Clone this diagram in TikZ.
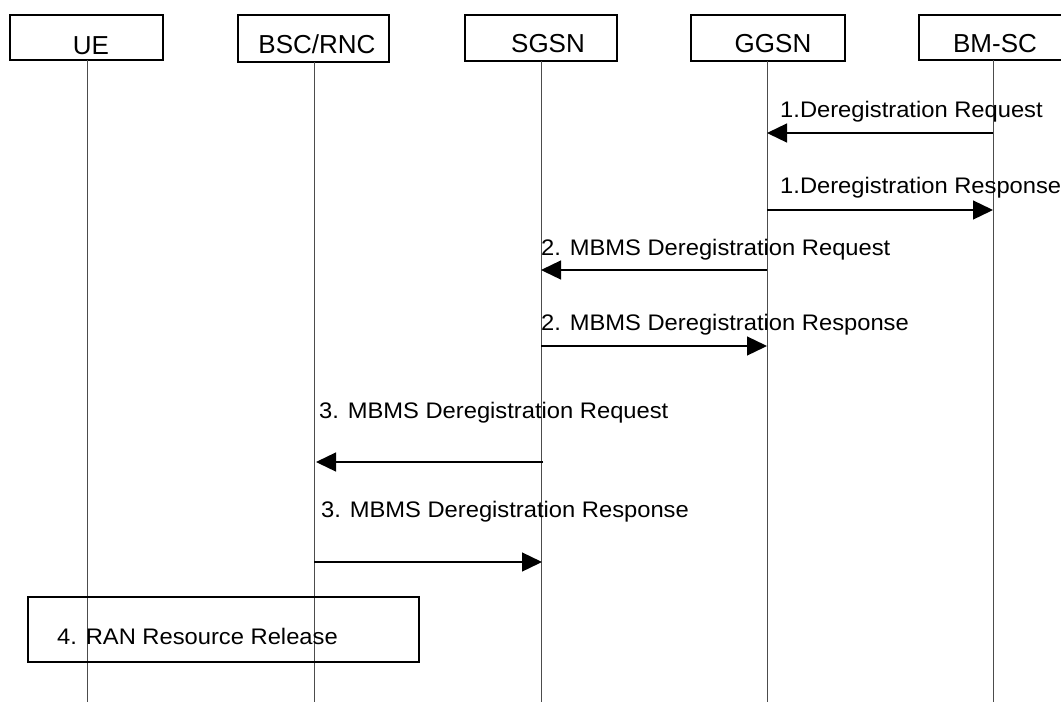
\documentclass[tikz,border=0pt]{standalone}
\usepackage{fontspec}
\setmainfont{Liberation Sans}
\newfontfamily\msgfont[FakeStretch=1.055]{Liberation Sans}
\usetikzlibrary{arrows.meta}
\begin{document}
\begin{tikzpicture}[x=1pt,y={(0,-1pt)},
  entbox/.style={draw=black,line width=1.4pt},
  entlabel/.style={anchor=base,inner sep=0pt,font=\fontsize{26}{30}\selectfont},
  lifeline/.style={draw=black!70,line width=1pt},
  msg/.style={draw=black,line width=1.3pt,-{Triangle[length=20pt,width=19pt]}},
  msglabel/.style={anchor=base west,inner sep=0pt,font=\msgfont\fontsize{22.5}{26}\selectfont}]
\useasboundingbox (0,0) rectangle (1061,702);
% entity boxes
\draw[entbox] (10,15) rectangle (163,60);
\draw[entbox] (238,15) rectangle (389,62);
\draw[entbox] (465,15) rectangle (617,61);
\draw[entbox] (691,15) rectangle (845,61);
\draw[entbox] (919,15) rectangle (1075,60);
\node[entlabel] (ue) at (91,54) {UE};
\node[entlabel] (bsc) at (317,53) {BSC/RNC};
\node[entlabel] (sgsn) at (548,52) {SGSN};
\node[entlabel] (ggsn) at (773,52) {GGSN};
\node[entlabel] (bmsc) at (995,52) {BM-SC};
% lifelines
\coordinate (ueT) at (87,60);   \coordinate (ueB) at (87,702);
\coordinate (bscT) at (314,62); \coordinate (bscB) at (314,702);
\coordinate (sgT) at (541,61);  \coordinate (sgB) at (541,702);
\coordinate (ggT) at (767,61);  \coordinate (ggB) at (767,702);
\coordinate (bmT) at (993,60);  \coordinate (bmB) at (993,702);
\draw[lifeline] (ueT) -- (ueB);
\draw[lifeline] (bscT) -- (bscB);
\draw[lifeline] (sgT) -- (sgB);
\draw[lifeline] (ggT) -- (ggB);
\draw[lifeline] (bmT) -- (bmB);
% message end points
\coordinate (m1a) at (993,133); \coordinate (m1b) at (767,133);
\coordinate (m2a) at (767,210); \coordinate (m2b) at (993,210);
\coordinate (m3a) at (767,270); \coordinate (m3b) at (541,270);
\coordinate (m4a) at (541,346); \coordinate (m4b) at (767,346);
\coordinate (m5a) at (543,462); \coordinate (m5b) at (316,462);
\coordinate (m6a) at (314,562); \coordinate (m6b) at (542,562);
\draw[msg] (m1a) -- (m1b);
\draw[msg] (m2a) -- (m2b);
\draw[msg] (m3a) -- (m3b);
\draw[msg] (m4a) -- (m4b);
\draw[msg] (m5a) -- (m5b);
\draw[msg] (m6a) -- (m6b);
% labels
\node[msglabel] (l1) at (780,117) {1.Deregistration Request};
\node[msglabel] (l2) at (780,193) {1.Deregistration Response};
\node[msglabel] (l3) at (541,255) {2. MBMS Deregistration Request};
\node[msglabel] (l4) at (541,330) {2. MBMS Deregistration Response};
\node[msglabel] (l5) at (319,418) {3. MBMS Deregistration Request};
\node[msglabel] (l6) at (321,517) {3. MBMS Deregistration Response};
% RAN box
\draw[entbox,line width=1.3pt] (28,597) rectangle (419,662);
\node[msglabel] (ran) at (57,644) {4. RAN Resource Release};
\end{tikzpicture}
\end{document}
